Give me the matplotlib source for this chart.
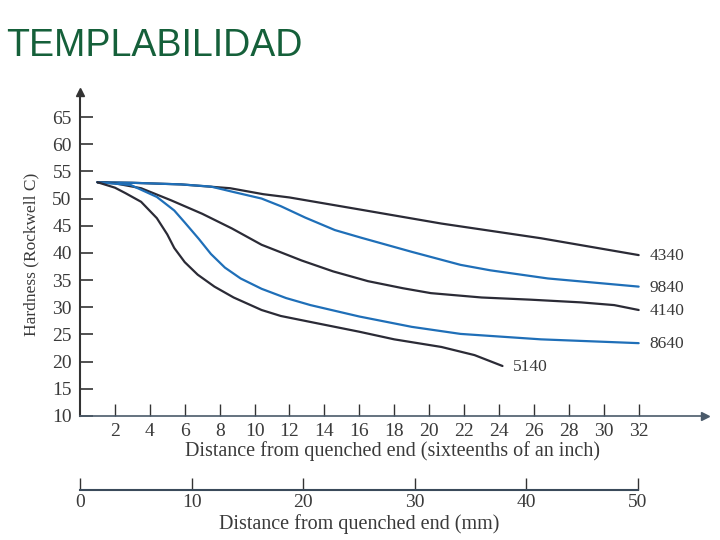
import matplotlib
matplotlib.use("Agg")
import matplotlib.pyplot as plt

# ---- data ----
x_4340 = [1, 3, 5.8, 8.6, 10.5, 12, 16, 20.7, 26.4, 32]
y_4340 = [53, 52.9, 52.6, 51.9, 50.8, 50.2, 48.0, 45.4, 42.7, 39.6]

x_9840 = [1, 3, 5.8, 7.5, 8.8, 10.4, 11.5, 12.9, 14.6, 16.1, 19, 21.8, 23.5, 26.8, 32]
y_9840 = [53, 52.9, 52.6, 52.2, 51.2, 50.0, 48.6, 46.5, 44.2, 42.8, 40.2, 37.8, 36.8, 35.3, 33.8]

x_4140 = [1, 2, 3.5, 5.2, 7.0, 8.7, 10.4, 12.7, 14.5, 16.5, 18.5, 20.1, 23, 25.8, 28.7, 30.6, 32]
y_4140 = [53, 52.8, 51.9, 49.7, 47.2, 44.5, 41.5, 38.6, 36.6, 34.8, 33.5, 32.6, 31.8, 31.4, 30.9, 30.4, 29.5]

x_8640 = [1, 2.9, 4.4, 5.4, 6.0, 6.8, 7.5, 8.3, 9.2, 10.4, 11.8, 13.2, 16, 19, 21.8, 26.4, 32]
y_8640 = [53, 52.5, 50.3, 47.8, 45.6, 42.6, 39.8, 37.3, 35.3, 33.4, 31.7, 30.4, 28.3, 26.4, 25.1, 24.1, 23.4]

x_5140 = [1, 2.0, 2.6, 3.5, 4.4, 5.0, 5.4, 6.0, 6.74, 7.7, 8.8, 10.4, 11.5, 13.2, 16, 18, 20.7, 22.6, 24.2]
y_5140 = [53, 52.0, 51.0, 49.4, 46.4, 43.4, 40.9, 38.3, 36.0, 33.8, 31.8, 29.5, 28.4, 27.3, 25.5, 24.1, 22.7, 21.2, 19.2]

series_names = ["4340", "9840", "4140", "8640", "5140"]
y_ticks = [10, 15, 20, 25, 30, 35, 40, 45, 50, 55, 60, 65]
x_ticks = list(range(2, 33, 2))
mm_ticks = [0, 10, 20, 30, 40, 50]

title = "TEMPLABILIDAD"
xlabel = "Distance from quenched end (sixteenths of an inch)"
xlabel_mm = "Distance from quenched end (mm)"
ylabel = "Hardness (Rockwell C)"

# ---- style ----
DARK = "#2b2b36"
BLUE = "#1f6fb8"
TXT = "#3a3a3a"
SERIF = ["Liberation Serif", "DejaVu Serif"]

fig = plt.figure(figsize=(7.2, 5.4), dpi=100)
fig.patch.set_facecolor("white")

fig.text(6 / 720, 1 - 46 / 540, title, color="#15603a", fontsize=27,
         family=["Liberation Sans", "DejaVu Sans"], ha="left", va="center")

ax = fig.add_axes([80 / 720, 124 / 540, 625 / 720, 324 / 540])
ax.set_xlim(0, 35.8)
ax.set_ylim(10, 69.6)

data = [(x_4340, y_4340, DARK), (x_9840, y_9840, BLUE), (x_4140, y_4140, DARK),
        (x_8640, y_8640, BLUE), (x_5140, y_5140, DARK)]
for (xs, ys, c), name in zip(data, series_names):
    ax.plot(xs, ys, color=c, lw=1.6, solid_joinstyle="round", solid_capstyle="round")
    ax.text(xs[-1] + 0.6, ys[-1] - 0.2, name, color=TXT, fontsize=12.5,
            family=SERIF, ha="left", va="center")

for s in ["top", "right"]:
    ax.spines[s].set_visible(False)
ax.spines["left"].set_color("#333333")
ax.spines["left"].set_linewidth(1.5)
ax.spines["bottom"].set_color("#4a5a6a")
ax.spines["bottom"].set_linewidth(1.2)

ax.set_yticks(y_ticks)
ax.set_xticks(x_ticks)
ax.tick_params(axis="y", direction="in", length=9, width=1.2, color="#333333",
               labelsize=14, labelcolor=TXT, pad=6)
ax.tick_params(axis="x", direction="in", length=9, width=1.0, color="#333333",
               labelsize=14, labelcolor=TXT, pad=5)
for lab in ax.get_xticklabels() + ax.get_yticklabels():
    lab.set_family(SERIF)

ax.set_xlabel(xlabel, fontsize=14.5, color=TXT, family=SERIF, labelpad=1)
ax.set_ylabel(ylabel, fontsize=12.5, color=TXT, family=SERIF, labelpad=9)

# arrowheads
ax.plot(1, 0, marker=">", color="#4a5a6a", ms=6, transform=ax.transAxes, clip_on=False)
ax.plot(0, 1, marker="^", color="#333333", ms=6, transform=ax.transAxes, clip_on=False)

# secondary mm axis
ax2 = fig.add_axes([80 / 720, 50 / 540, 558 / 720, 0.0001])
ax2.set_xlim(0, 50)
ax2.set_yticks([])
for s in ["top", "right", "left"]:
    ax2.spines[s].set_visible(False)
ax2.spines["bottom"].set_color("#3a4a5a")
ax2.spines["bottom"].set_linewidth(1.5)
ax2.set_xticks(mm_ticks)
ax2.tick_params(axis="x", direction="in", length=9, width=1.0, color="#333333",
                labelsize=14, labelcolor=TXT, pad=3)
for lab in ax2.get_xticklabels():
    lab.set_family(SERIF)
ax2.set_xlabel(xlabel_mm, fontsize=14.5, color=TXT, family=SERIF, labelpad=2)

fig.savefig("out.png", dpi=100, facecolor="white")
